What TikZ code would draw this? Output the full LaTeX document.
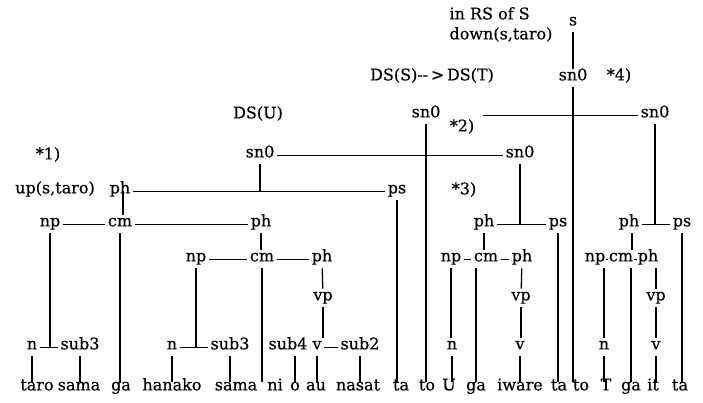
\documentclass[tikz,border=0pt]{standalone}
\usepackage{fontspec}
\setmainfont{DejaVu Serif}[FakeBold=0.5]
\newcommand\labfont{\fontsize{16}{19}\selectfont}
\begin{document}
\begin{tikzpicture}[x=1pt,y=-1pt,
  lab/.style={inner sep=0pt, outer xsep=2.5pt, outer ysep=4pt,
              text height=1.5ex, text depth=0.6ex, font=\labfont},
  tight/.style={lab, outer xsep=0.8pt},
  word/.style={lab, outer ysep=1pt},
  hl/.style={line width=0.8pt},
  vl/.style={line width=1.3pt}]
\useasboundingbox (0,0) rectangle (703,402);

% ---- notes at the top
\node[lab, anchor=west] (rsof) at (447,17) {in RS of S};
\node[lab, anchor=west] (down) at (447,37) {down(s,taro)};
\node[lab] (dsst) at (432,78) {DS(S){-}{-}\,>\,DS(T)};
\node[lab] (dsu)  at (258,116) {DS(U)};
\node[lab] (st1)  at (48,157) {*1)};
\node[lab] (st2)  at (462,129) {*2)};
\node[lab] (st3)  at (464,192) {*3)};
\node[lab] (st4)  at (619,78) {*4)};

% ---- upper structure
\node[lab] (s)    at (573,23)  {s};
\node[lab] (sn0t) at (573,78)  {sn0};
\node[lab] (sn0l) at (426,115) {sn0};
\node[lab] (sn0r) at (655,115) {sn0};
\coordinate (cut) at (483,115);
\node[lab] (sn0u) at (260,155) {sn0};
\node[lab] (sn0m) at (520,155) {sn0};

\node[lab] (up)  at (55,191)  {up(s,taro)};
\node[lab] (pha) at (120,191) {ph};
\node[lab] (psa) at (397,191) {ps};

\node[lab] (npa) at (50,224)  {np};
\node[lab] (cma) at (120,224) {cm};
\node[lab] (phb) at (261,224) {ph};
\node[lab] (phc) at (484,224) {ph};
\node[lab] (psb) at (558,224) {ps};
\node[lab] (phd) at (629,224) {ph};
\node[lab] (psc) at (682,224) {ps};

\node[lab]   (npb) at (196,259) {np};
\node[lab]   (cmb) at (262,259) {cm};
\node[lab]   (phe) at (322,259) {ph};
\node[lab]   (npc) at (451,259) {np};
\node[lab]   (cmc) at (486,259) {cm};
\node[lab]   (phf) at (522,259) {ph};
\node[tight] (npd) at (595,259) {np};
\node[tight] (cmd) at (621,259) {cm};
\node[tight] (phg) at (648,259) {ph};

\node[lab] (vpa) at (323,298) {vp};
\node[lab] (vpb) at (521,298) {vp};
\node[lab] (vpc) at (656,298) {vp};

\node[lab] (na)    at (32,347)  {n};
\node[lab] (suba)  at (80,347)  {sub3};
\node[lab] (nb)    at (172,347) {n};
\node[lab] (subb)  at (230,347) {sub3};
\node[lab] (subc)  at (288,347) {sub4};
\node[lab] (va)    at (317,347) {v};
\node[lab] (subd)  at (360,347) {sub2};
\node[lab] (nc)    at (452,347) {n};
\node[lab] (vb)    at (520,347) {v};
\node[lab] (nd)    at (604,347) {n};
\node[lab] (vc)    at (656,347) {v};

% ---- the sentence
\node[word] (w1)  at (37,388)  {taro};
\node[word] (w2)  at (79,388)  {sama};
\node[word] (w3)  at (121,388) {ga};
\node[word] (w4)  at (172,388) {hanako};
\node[word] (w5)  at (236,388) {sama};
\node[word] (w6)  at (275,388) {ni};
\node[word] (w7)  at (295,388) {o};
\node[word] (w8)  at (316,388) {au};
\node[word] (w9)  at (358,388) {nasat};
\node[word] (w10) at (401,388) {ta};
\node[word] (w11) at (427,388) {to};
\node[word] (w12) at (449,388) {U};
\node[word] (w13) at (476,388) {ga};
\node[word] (w14) at (520,388) {iware};
\node[word] (w15) at (559,388) {ta};
\node[word] (w16) at (581,388) {to};
\node[word] (w17) at (606,388) {T};
\node[word] (w18) at (631,388) {ga};
\node[word] (w19) at (653,388) {it};
\node[word] (w20) at (680,388) {ta};

% ---- horizontal links
\draw[hl] (cut) -- (sn0r);
\draw[hl] (sn0u) -- (sn0m);
\draw[hl] (pha) -- (psa);
\draw[hl] (phc) -- (psb);
\draw[hl] (phd) -- (psc);
\draw[hl] (npa) -- (cma);
\draw[hl] (cma) -- (phb);
\draw[hl] (npb) -- (cmb);
\draw[hl] (cmb) -- (phe);
\draw[hl] (npc) -- (cmc);
\draw[hl] (cmc) -- (phf);
\draw[hl] (npd) -- (cmd);
\draw[hl] (cmd) -- (phg);
\draw[hl] (na) -- (suba);
\draw[hl] (nb) -- (subb);
\draw[hl] (subc) -- (va);
\draw[hl] (va) -- (subd);

% ---- vertical links
\draw[vl] (s) -- (sn0t);
\draw[vl] (sn0t) -- (sn0t |- w16.north);
\draw[vl] (sn0l) -- (sn0l |- w11.north);
\draw[vl] (sn0r) -- (sn0r |- phd);
\draw[vl] (sn0u) -- (sn0u |- pha);
\draw[vl] (sn0m) -- (sn0m |- phc);
\draw[vl] (psa) -- (psa |- w10.north);
\draw[vl] (psb) -- (psb |- w15.north);
\draw[vl] (psc) -- (psc |- w20.north);

\draw[vl] ([xshift=3pt]pha.center) -- ([xshift=3pt]cma.north);
\draw[vl] (npa) -- (npa |- na);
\draw[vl] (cma) -- (cma |- w3.north);
\draw[vl] (phb) -- (phb |- cmb.north);
\draw[vl] (npb) -- (npb |- nb);
\draw[vl] (cmb) -- (cmb |- w6.north);
\draw[vl] (phe) -- (vpa);
\draw[vl] (vpa) -- (vpa |- va.north);

\draw[vl] (phc) -- (phc |- cmc.north);
\draw[vl] (npc) -- (npc |- nc.north);
\draw[vl] (cmc.south -| w13) -- (w13.north);
\draw[vl] (phf) -- (vpb);
\draw[vl] (vpb) -- (vpb |- vb.north);

\draw[vl] ([xshift=3pt]phd.south) -- ([xshift=3pt]phd.south |- cmd.north);
\draw[vl] (npd.south -| nd) -- (nd.north);
\draw[vl] (cmd.south -| w18) -- (w18.north);
\draw[vl] (phg.south -| vpc) -- (vpc.north);
\draw[vl] (vpc) -- (vc);

\draw[vl] (na) -- (na |- w1.north);
\draw[vl] (suba) -- (suba |- w2.north);
\draw[vl] (nb) -- (nb |- w4.north);
\draw[vl] (subb) -- (subb |- w5.north);
\draw[vl] (subc.south -| w7) -- (w7.north);
\draw[vl] (va) -- (va |- w8.north);
\draw[vl] (subd) -- (subd |- w9.north);
\draw[vl] (nc) -- (nc |- w12.north);
\draw[vl] (vb) -- (vb |- w14.north);
\draw[vl] (nd) -- (nd |- w17.north);
\draw[vl] (vc) -- (vc |- w19.north);
\end{tikzpicture}
\end{document}
